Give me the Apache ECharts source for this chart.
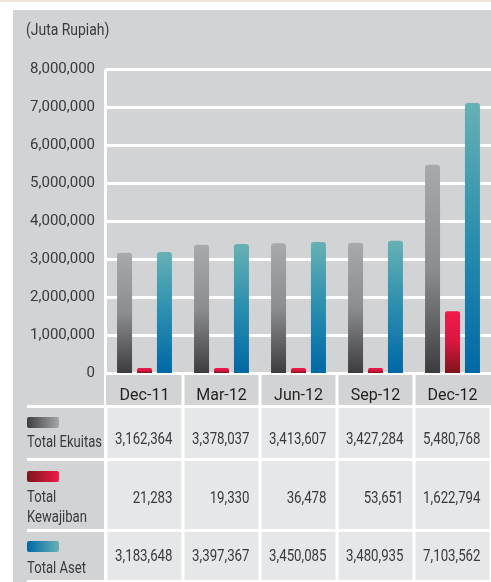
<!DOCTYPE html>
<html>
<head>
<meta charset="utf-8">
<script src="https://cdn.jsdelivr.net/npm/echarts@6/dist/echarts.min.js"></script>
<style>
  html, body { margin: 0; padding: 0; background: #fff; }
  #chart { width: 491px; height: 582px; }
</style>
</head>
<body>
<div id="chart"></div>
<script>
const categories = ['Dec-11', 'Mar-12', 'Jun-12', 'Sep-12', 'Dec-12'];
const ekuitas = [3162364, 3378037, 3413607, 3427284, 5480768];
const kewajiban = [21283, 19330, 36478, 53651, 1622794];
const aset = [3183648, 3397367, 3450085, 3480935, 7103562];
const rowLabels = ['Total Ekuitas', 'Total\nKewajiban', 'Total Aset'];

(function () {
  const FONT = "Roboto, 'Liberation Sans', sans-serif";
  const GL = 106, CW = 77;          // grid left, category width
  const PANEL = '#d1d3d4', CELL = '#e6e7e8', WHITE = '#ffffff', INK = '#3a3a3c';

  const grad = (stops, horiz) => new echarts.graphic.LinearGradient(0, 0, horiz ? 1 : 0, horiz ? 0 : 1,
    stops.map((c, i) => ({ offset: i / (stops.length - 1), color: c })));
  const grayV = grad(['#a8a9ac', '#8c8d90', '#3c3c3e']);
  const redV = grad(['#ef1a4c', '#d8173f', '#7d1519']);
  const tealV = grad(['#67b1b4', '#2a8eaf', '#0068a6']);
  const swatches = [
    grad(['#3f3f41', '#a6a7aa'], true),
    grad(['#7d1519', '#ef1a4c'], true),
    grad(['#0068a6', '#67b1b4'], true),
  ];
  const fmt = v => v.toLocaleString('en-US');

  // panel, table cells and legend
  const g = [
    { type: 'rect', shape: { x: 0, y: 0, width: 491, height: 2 }, style: { fill: '#efe6da' }, z: -10 },
    { type: 'rect', shape: { x: 13, y: 10, width: 478, height: 572 }, style: { fill: PANEL }, z: -10 },
    { type: 'rect', shape: { x: 27, y: 405, width: 464, height: 177 }, style: { fill: WHITE }, z: -9 },
    { type: 'rect', shape: { x: 104, y: 69, width: 3, height: 513 }, style: { fill: WHITE }, z: -8 },
    {
      type: 'text', x: 26, y: 31, scaleX: 0.82, z: 5,
      style: { text: '(Juta Rupiah)', font: '17px ' + FONT, fill: INK, textVerticalAlign: 'middle' },
    },
  ];
  // category label strip
  g.push({ type: 'rect', shape: { x: GL, y: 375, width: 491 - GL, height: 30 }, style: { fill: PANEL }, z: -8 });
  categories.forEach((c, i) => {
    if (i > 0) g.push({ type: 'rect', shape: { x: GL + i * CW - 1.5, y: 373, width: 3, height: 32 }, style: { fill: WHITE }, z: -7 });
  });
  const rows = [
    { y: 408, h: 50, vals: ekuitas, ty: 440 },
    { y: 461, h: 68, vals: kewajiban, ty: 499 },
    { y: 532, h: 48, vals: aset, ty: 557 },
  ];
  rows.forEach((r, ri) => {
    g.push({ type: 'rect', shape: { x: 27, y: r.y, width: 77, height: r.h }, style: { fill: PANEL }, z: -7 });
    g.push({ type: 'rect', shape: { x: 27, y: r.y + (ri === 1 ? 10 : 9), width: 32, height: 11, r: 2 }, style: { fill: swatches[ri] }, z: -6 });
    g.push({
      type: 'text', x: 27, y: r.y + (ri === 0 ? 25 : 27), scaleX: 0.77, z: -6,
      style: { text: rowLabels[ri], font: '17px ' + FONT, fill: INK, lineHeight: 20, textVerticalAlign: 'top' },
    });
    r.vals.forEach((v, ci) => {
      const x0 = GL + ci * CW + 1.5, x1 = GL + (ci + 1) * CW - 1.5;
      g.push({ type: 'rect', shape: { x: x0, y: r.y, width: x1 - x0, height: r.h }, style: { fill: CELL }, z: -7 });
      g.push({
        type: 'text', x: x1 - 9, y: r.ty, scaleX: 0.78, z: -6,
        style: { text: fmt(v), font: '17px ' + FONT, fill: INK, textAlign: 'right', textVerticalAlign: 'middle' },
      });
    });
  });

  const chart = echarts.init(document.getElementById('chart'));
  chart.setOption({
    animation: false,
    backgroundColor: WHITE,
    textStyle: { fontFamily: FONT },
    grid: { left: GL, right: 0, top: 69, bottom: 209, containLabel: false },
    xAxis: {
      type: 'category', data: categories,
      axisLine: { show: true, lineStyle: { color: WHITE, width: 3 } },
      axisTick: { show: false },
      axisLabel: { margin: 15, fontSize: 16, color: '#231f20', fontFamily: FONT },
    },
    yAxis: {
      type: 'value', min: 0, max: 8000000, interval: 1000000,
      axisLine: { show: false },
      axisTick: { show: false },
      axisLabel: { margin: 11, fontSize: 15, color: INK, fontFamily: FONT, formatter: v => fmt(v) },
      splitLine: { lineStyle: { color: WHITE, width: 3 } },
    },
    graphic: g,
    series: [
      { name: 'Total Ekuitas', type: 'bar', data: ekuitas, barWidth: 15, barGap: '33%', itemStyle: { color: grayV, borderRadius: [3, 3, 0, 0] } },
      { name: 'Total Kewajiban', type: 'bar', data: kewajiban, barWidth: 15, barGap: '33%', barMinHeight: 5, itemStyle: { color: redV, borderRadius: [2, 2, 0, 0] } },
      { name: 'Total Aset', type: 'bar', data: aset, barWidth: 15, barGap: '33%', itemStyle: { color: tealV, borderRadius: [3, 3, 0, 0] } },
    ],
  });
  window.addEventListener('resize', () => chart.resize());
})();
</script>
</body>
</html>
